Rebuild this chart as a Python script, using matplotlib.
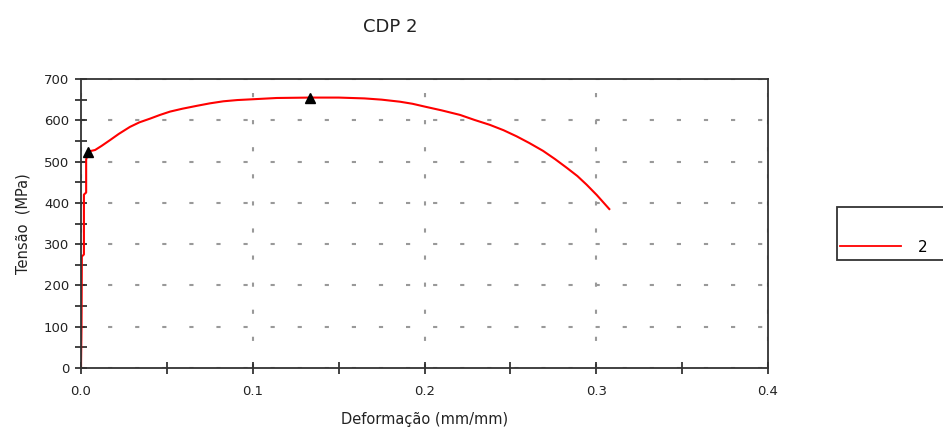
import matplotlib.pyplot as plt
from matplotlib.patches import Rectangle
from matplotlib.lines import Line2D

plt.rcParams['lines.scale_dashes'] = False

# strain (mm/mm) and stress (MPa)
strain = [0.0, 0.0003, 0.0005, 0.0017, 0.0017, 0.003, 0.003, 0.0043, 0.006,
          0.0082, 0.012, 0.0169, 0.022, 0.0285, 0.034, 0.0402, 0.046, 0.0518,
          0.059, 0.0674, 0.075, 0.0829, 0.091, 0.1003, 0.114, 0.1333, 0.15,
          0.165, 0.175, 0.1857, 0.193, 0.2003, 0.21, 0.2207, 0.229, 0.238,
          0.246, 0.2537, 0.261, 0.269, 0.276, 0.2828, 0.289, 0.2944, 0.3003,
          0.3076]
stress = [0, 100, 270, 275, 420, 425, 505, 524, 526,
          528, 538, 552, 567, 584, 595, 604, 613, 621,
          628, 635, 641, 646, 649, 651, 654, 655, 655,
          653, 650, 645, 640, 633, 624, 613, 601, 589,
          576, 561, 545, 526, 506, 485, 465, 444, 419,
          385]
marker_strain = [0.0043, 0.1333]
marker_stress = [524, 655]
series_label = "2"

fig = plt.figure(figsize=(9.43, 4.32), dpi=100)
ax = fig.add_axes([81/943, 64/432, 687/943, 289/432])

ax.plot(strain, stress, color="#ff0000", lw=1.5, label=series_label)
ax.plot(marker_strain, marker_stress, ls="none", marker="^", color="black", ms=7)

ax.set_xlim(0, 0.4)
ax.set_ylim(0, 700)
ax.set_xticks([0.0, 0.1, 0.2, 0.3, 0.4])
ax.set_xticklabels(["0.0", "0.1", "0.2", "0.3", "0.4"])
ax.set_xticks([0.05, 0.15, 0.25, 0.35], minor=True)
ax.set_yticks(range(0, 701, 100))
ax.set_yticks(range(50, 700, 100), minor=True)
ax.tick_params(which="both", direction="inout", length=9, width=1.2, color="#222222",
               labelsize=9.5, labelcolor="#222222")
ax.tick_params(axis="x", which="both", pad=8)
ax.tick_params(axis="y", which="both", pad=4)

for s in ax.spines.values():
    s.set_color("#333333")
    s.set_linewidth(1.3)

ax.grid(True, which="major", color="#999999", lw=1.5, ls=(0, (3, 16.5)))

ax.set_xlabel("Deformação (mm/mm)", fontsize=10.5, color="#222222", labelpad=10)
ax.set_ylabel("Tensão  (MPa)", fontsize=10.5, color="#222222", labelpad=10)
fig.text(390/943, 1 - 27/432, "CDP 2", ha="center", va="center", fontsize=13, color="#222222")

# legend box (cut off by the right edge in the reference)
fig.patches.append(Rectangle((837/943, 1 - 260/432), 120/943, 53/432,
                             transform=fig.transFigure, facecolor="white",
                             edgecolor="#333333", lw=1.3, clip_on=False))
fig.legend(handles=[Line2D([], [], color="#ff0000", lw=1.3)], labels=[series_label],
           loc="center left", bbox_to_anchor=(826/943, 1 - 247/432), frameon=False,
           handlelength=4.0, handletextpad=1.1, fontsize=11)

fig.savefig("out.png", dpi=100)
